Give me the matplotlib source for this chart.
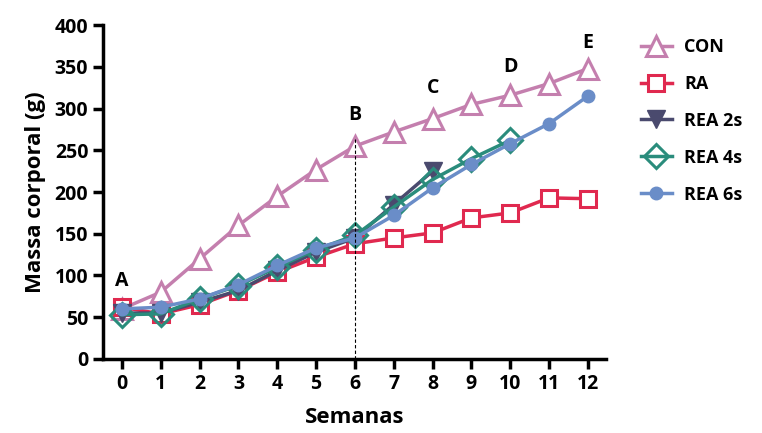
import matplotlib.pyplot as plt

plt.rcParams['font.family'] = ['Open Sans', 'DejaVu Sans']
plt.rcParams['font.weight'] = 'bold'

semanas = list(range(13))
con = [60, 80, 120, 160, 195, 227, 255, 272, 288, 305, 316, 330, 348]
ra = [62, 54, 65, 82, 104, 122, 138, 145, 151, 169, 175, 193, 192]
rea2 = [55, 55, 68, 82, 106, 128, 145, 185, 225]
rea4 = [53, 54, 72, 88, 110, 131, 148, 182, 215, 240, 262]
rea6 = [60, 62, 72, 89, 112, 133, 145, 172, 205, 233, 258, 282, 315]

letras = ['A', 'B', 'C', 'D', 'E']
letras_x = [0, 6, 8, 10, 12]
letras_y = [93, 292, 325, 350, 378]

fig = plt.figure(figsize=(7.62, 4.33), dpi=100)
ax = fig.add_axes([0.135, 0.171, 0.66, 0.771])

lw = 2.5
ax.plot(semanas, con, color='#c47fae', lw=lw, marker='^', ms=14, mfc='white',
        mew=2.2, label='CON')
ax.plot(semanas, ra, color='#e0294f', lw=lw, marker='s', ms=12, mfc='white',
        mew=2.2, label='RA')
ax.plot(semanas[:len(rea2)], rea2, color='#4a4a6e', lw=lw, marker='v', ms=13,
        label='REA 2s')
ax.plot(semanas[:len(rea4)], rea4, color='#2a8c7c', lw=lw, marker='D', ms=12,
        mfc='none', mew=2.2, label='REA 4s')
ax.plot(semanas, rea6, color='#6a8dc8', lw=lw, marker='o', ms=9,
        label='REA 6s')

ax.plot([6, 6], [0, 265], color='black', lw=0.8, ls=(0, (3, 2)))

for t, x, y in zip(letras, letras_x, letras_y):
    ax.text(x, y, t, ha='center', va='center', fontsize=14, fontweight='bold')

ax.set_xlim(-0.49, 12.46)
ax.set_ylim(0, 400)
ax.set_xticks(semanas)
ax.set_yticks(range(0, 401, 50))
ax.set_xlabel('Semanas', fontsize=16, fontweight='bold', labelpad=10)
ax.set_ylabel('Massa corporal (g)', fontsize=16, fontweight='bold', labelpad=6)
ax.tick_params(width=2.5, length=7, labelsize=14)
for s in ['top', 'right']:
    ax.spines[s].set_visible(False)
for s in ['left', 'bottom']:
    ax.spines[s].set_linewidth(2.5)

fig.legend(loc='upper left', bbox_to_anchor=(0.834, 0.925), frameon=False,
           fontsize=13, handlelength=1.7, labelspacing=1.05, handletextpad=0.7,
           borderaxespad=0, borderpad=0.3)

fig.savefig('out.png', dpi=100)
